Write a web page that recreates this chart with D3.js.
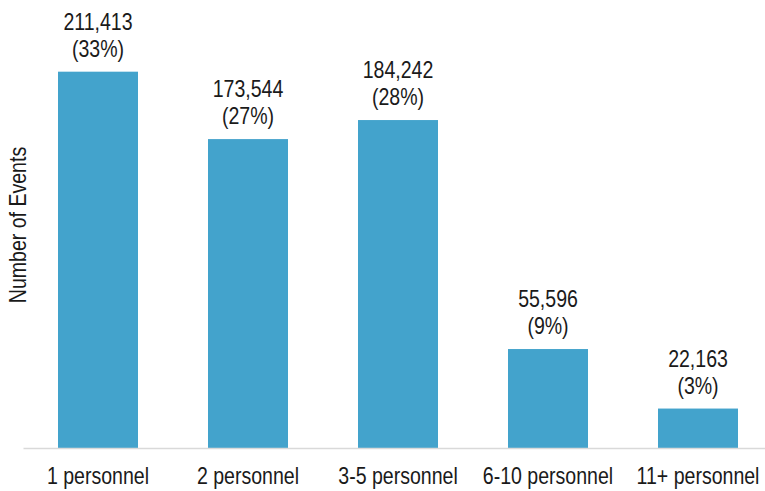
<!DOCTYPE html>
<html>
<head>
<meta charset="utf-8">
<script src="https://cdn.jsdelivr.net/npm/d3@7"></script>
<style>
  html, body { margin: 0; padding: 0; background: #fff; }
  svg { display: block; }
  text { font-family: "Liberation Sans", Arial, sans-serif; fill: #1a1a1a; }
</style>
</head>
<body>
<svg id="chart" width="765" height="491"></svg>
<script>
const categories = ["1 personnel", "2 personnel", "3-5 personnel", "6-10 personnel", "11+ personnel"];
const values = [211413, 173544, 184242, 55596, 22163];
const percents = ["33%", "27%", "28%", "9%", "3%"];
const yTitle = "Number of Events";

const SX = 0.85; // emulate a narrow face
const svg = d3.select("#chart");

const x = d3.scaleBand().domain(categories).range([23, 773]).paddingInner(70 / 150).paddingOuter(35 / 150);
const y = d3.scaleLinear().domain([0, 250000]).range([448, 3]);

const fmt = d3.format(",");

svg.selectAll("rect.bar")
  .data(values)
  .join("rect")
  .attr("class", "bar")
  .attr("x", (d, i) => x(categories[i]))
  .attr("width", x.bandwidth())
  .attr("y", d => y(d))
  .attr("height", d => y(0) - y(d))
  .attr("fill", "#43a3cc");

// baseline axis
const xAxis = d3.axisBottom(x).tickSize(0).tickPadding(0);
const gx = svg.append("g").attr("transform", `translate(0,${y(0)})`).call(xAxis);
gx.attr("font-family", null).attr("font-size", null);
gx.select(".domain").attr("stroke", "#d9d9d9").attr("stroke-width", 1.5);
gx.selectAll(".tick text")
  .attr("dy", null)
  .attr("y", 0)
  .attr("transform", `translate(0,36) scale(${SX},1)`)
  .style("font-size", "23px")
  .attr("fill", "#1a1a1a");

// data labels
const lab = svg.selectAll("g.lab")
  .data(values)
  .join("g")
  .attr("class", "lab")
  .attr("transform", (d, i) => `translate(${x(categories[i]) + x.bandwidth() / 2},${y(d)})`);
lab.append("text")
  .attr("text-anchor", "middle")
  .attr("transform", `translate(0,-42) scale(${SX},1)`)
  .style("font-size", "23px")
  .text(d => fmt(d));
lab.append("text")
  .attr("text-anchor", "middle")
  .attr("transform", `translate(0,-15) scale(${SX},1)`)
  .style("font-size", "23px")
  .text((d, i) => `(${percents[i]})`);

// y title
svg.append("text")
  .attr("transform", `translate(26,225) rotate(-90) scale(${SX},1)`)
  .attr("text-anchor", "middle")
  .style("font-size", "23px")
  .text(yTitle);
</script>
</body>
</html>
